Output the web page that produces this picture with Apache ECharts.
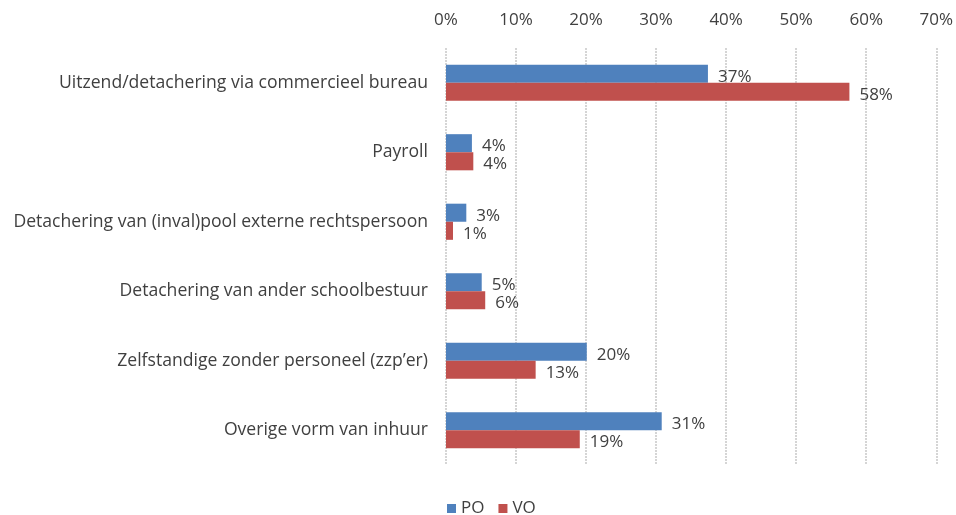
<!DOCTYPE html>
<html>
<head>
<meta charset="utf-8">
<script src="https://cdn.jsdelivr.net/npm/echarts@6/dist/echarts.min.js"></script>
<style>
  html, body { margin: 0; padding: 0; background: #fff; }
  #chart { width: 956px; height: 515px; }
</style>
</head>
<body>
<div id="chart"></div>
<script>
// categorieën (van boven naar onder)
const categories = [
  'Uitzend/detachering via commercieel bureau',
  'Payroll',
  'Detachering van (inval)pool externe rechtspersoon',
  'Detachering van ander schoolbestuur',
  'Zelfstandige zonder personeel (zzp\u2019er)',
  'Overige vorm van inhuur'
]
// percentages
const poValues = [37.4, 3.7, 2.9, 5.1, 20.1, 30.8]
const voValues = [57.6, 3.9, 1.0, 5.6, 12.8, 19.1]
const xTicks = [0, 10, 20, 30, 40, 50, 60, 70]

const textColor = '#404040'
const fontFamily = '"Open Sans", "Liberation Sans", sans-serif'
const fontSize = 17

const chart = echarts.init(document.getElementById('chart'))

function labelOpt() {
  return {
    show: true,
    position: 'right',
    distance: 10,
    color: textColor,
    fontSize,
    fontFamily,
    offset: [0, 3],
    formatter: p => Math.round(p.value) + '%'
  }
}

chart.setOption({
  animation: false,
  grid: { left: 446, right: 19, top: 48, bottom: 50 },
  legend: {
    bottom: -7,
    left: 442,
    itemWidth: 9,
    itemHeight: 9,
    itemGap: 14,
    icon: 'rect',
    textStyle: { color: textColor, fontSize, fontFamily },
    data: ['PO', 'VO']
  },
  xAxis: {
    type: 'value',
    position: 'top',
    min: xTicks[0],
    max: xTicks[xTicks.length - 1],
    interval: 10,
    axisLine: { show: false },
    axisTick: { show: false },
    axisLabel: {
      color: textColor,
      fontSize,
      fontFamily,
      margin: 19,
      formatter: v => v + '%'
    },
    splitLine: { lineStyle: { color: '#c8c8c8', type: [2, 1], width: 1.5 } }
  },
  yAxis: {
    type: 'category',
    inverse: true,
    data: categories,
    axisLine: { show: false },
    axisTick: { show: false },
    axisLabel: { color: textColor, fontSize: 17.6, fontFamily, margin: 18 }
  },
  series: [
    {
      name: 'PO',
      type: 'bar',
      data: poValues,
      barGap: '0%',
      barCategoryGap: '48%',
      itemStyle: { color: '#4f81bd' },
      label: labelOpt()
    },
    {
      name: 'VO',
      type: 'bar',
      data: voValues,
      itemStyle: { color: '#c0504d' },
      label: labelOpt()
    }
  ]
})
</script>
</body>
</html>
